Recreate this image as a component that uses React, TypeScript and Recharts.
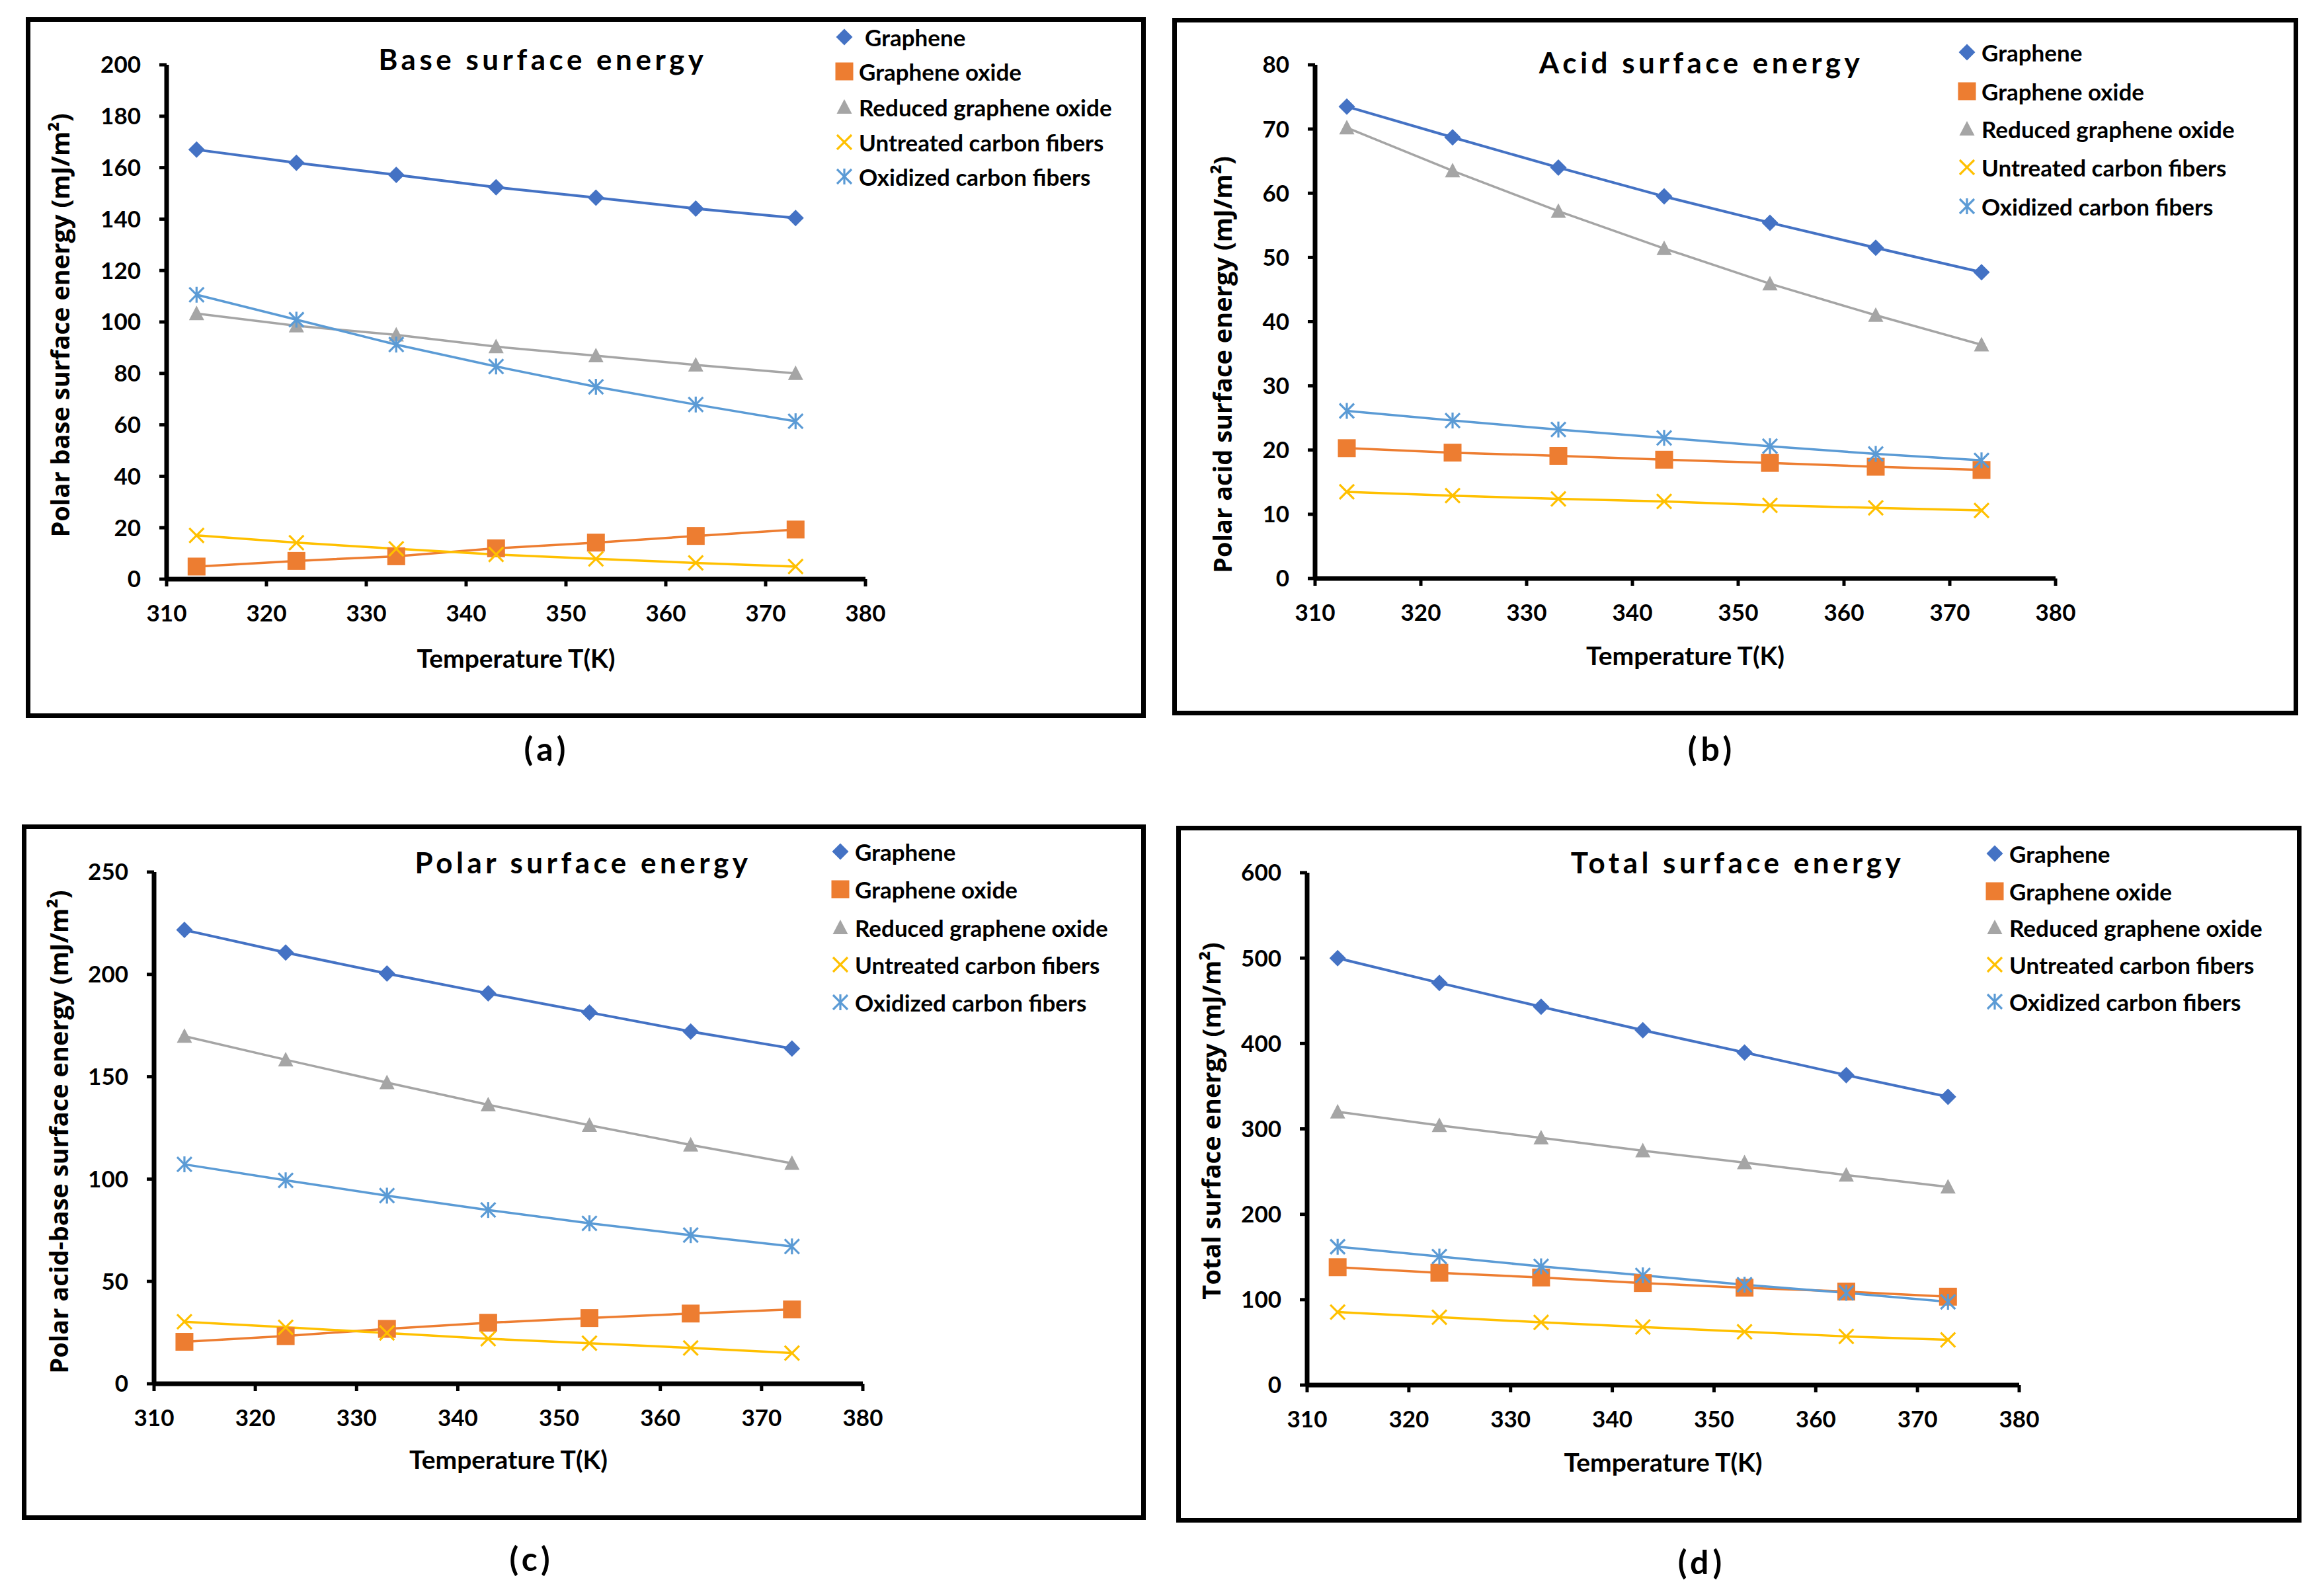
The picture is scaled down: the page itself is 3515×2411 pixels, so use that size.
import React from "react"
import { Line, LineChart, XAxis, YAxis } from "recharts"

const TEMPS = [313, 323, 333, 343, 353, 363, 373]
const X_TICKS = [310, 320, 330, 340, 350, 360, 370, 380]

const SERIES_NAMES = [
  "Graphene",
  "Graphene oxide",
  "Reduced graphene oxide",
  "Untreated carbon fibers",
  "Oxidized carbon fibers",
]

// (a) base surface energy
const BASE_GRAPHENE = [167, 161.9, 157.2, 152.4, 148.3, 144.1, 140.4]
const BASE_GO = [4.9, 7.1, 8.9, 12, 14.2, 16.8, 19.3]
const BASE_RGO = [103.3, 98.5, 95, 90.4, 86.9, 83.3, 80]
const BASE_UCF = [17, 14.2, 11.8, 9.6, 7.9, 6.3, 4.9]
const BASE_OCF = [110.6, 100.9, 91.2, 82.7, 74.8, 67.9, 61.4]

// (b) acid surface energy
const ACID_GRAPHENE = [73.5, 68.7, 64, 59.5, 55.4, 51.5, 47.7]
const ACID_GO = [20.3, 19.6, 19.1, 18.5, 18, 17.4, 16.9]
const ACID_RGO = [70.2, 63.5, 57.2, 51.4, 45.9, 41, 36.4]
const ACID_UCF = [13.5, 12.9, 12.4, 12, 11.4, 11, 10.6]
const ACID_OCF = [26.1, 24.6, 23.2, 21.9, 20.6, 19.4, 18.4]

// (c) polar surface energy
const POLAR_GRAPHENE = [221.7, 210.7, 200.4, 190.7, 181.4, 172.1, 163.8]
const POLAR_GO = [20.5, 23.3, 26.8, 29.8, 32.1, 34.3, 36.3]
const POLAR_RGO = [169.8, 158.3, 147.1, 136.3, 126.3, 116.7, 107.7]
const POLAR_UCF = [30.3, 27.6, 24.8, 22, 19.8, 17.5, 15]
const POLAR_OCF = [107.2, 99.4, 91.9, 84.9, 78.4, 72.6, 67.1]

// (d) total surface energy
const TOTAL_GRAPHENE = [500, 471, 443, 415.5, 389.5, 363, 337.5]
const TOTAL_GO = [138, 131.5, 126, 119.5, 114, 109.5, 103.5]
const TOTAL_RGO = [320, 304, 289.5, 274.5, 260.5, 246, 232]
const TOTAL_UCF = [85.5, 79.5, 73.5, 68, 62.5, 57, 53]
const TOTAL_OCF = [162, 150.5, 139, 128.5, 117.5, 108, 97.5]

const COLORS = ["#4472C4", "#ED7D31", "#A5A5A5", "#FFC000", "#5B9BD5"]
const KEYS = ["g", "go", "rgo", "ucf", "ocf"]
const SHAPES = ["diamond", "square", "triangle", "x", "star"]

const CAL = "Lato, 'Open Sans', sans-serif"
const VERD = "'Open Sans', 'DejaVu Sans', Verdana, sans-serif"

function Marker({ shape, cx, cy, color, scale = 1 }: any) {
  if (cx == null || cy == null) return null
  const s = scale
  if (shape === "diamond") {
    const r = 12.5 * s
    return <polygon points={`${cx},${cy - r} ${cx + r},${cy} ${cx},${cy + r} ${cx - r},${cy}`} fill={color} />
  }
  if (shape === "square") {
    const h = 13.5 * s
    return <rect x={cx - h} y={cy - h} width={h * 2} height={h * 2} fill={color} />
  }
  if (shape === "triangle") {
    const w = 11.5 * s
    return <polygon points={`${cx},${cy - 12 * s} ${cx + w},${cy + 10 * s} ${cx - w},${cy + 10 * s}`} fill={color} />
  }
  const r = 11 * s
  return (
    <g stroke={color} strokeWidth={3.2} fill="none">
      <line x1={cx - r} y1={cy - r} x2={cx + r} y2={cy + r} />
      <line x1={cx - r} y1={cy + r} x2={cx + r} y2={cy - r} />
      {shape === "star" && <line x1={cx} y1={cy - r - 1} x2={cx} y2={cy + r + 1} />}
    </g>
  )
}

type PanelDef = {
  box: { x: number; y: number; w: number; h: number }
  plot: { l: number; t: number; r: number; b: number }
  series: number[][]
  yMax: number
  yTicks: number[]
  yLabel: string
  yLabelDist: number
  yLabelDy: number
  xLabelDy: number
  title: string
  titleX: number
  titleY: number
  legendX: number
  legendRows: number[]
  tag: string
  tagX: number
  tagY: number
}

const PANELS: PanelDef[] = [
  {
    box: { x: 39, y: 26, w: 1694, h: 1060 },
    plot: { l: 252, t: 98, r: 1309, b: 876 },
    series: [BASE_GRAPHENE, BASE_GO, BASE_RGO, BASE_UCF, BASE_OCF],
    yMax: 200,
    yTicks: [0, 20, 40, 60, 80, 100, 120, 140, 160, 180, 200],
    yLabel: "Polar base surface energy (mJ/m²)",
    yLabelDist: 162,
    yLabelDy: 5,
    xLabelDy: 119,
    title: "Base surface energy",
    titleX: 821,
    titleY: 106,
    legendX: 1277,
    legendRows: [56, 108, 162, 215, 267],
    tag: "(a)",
    tagX: 827,
    tagY: 1132,
  },
  {
    box: { x: 1773, y: 27, w: 1703, h: 1055 },
    plot: { l: 1989, t: 98, r: 3109, b: 875 },
    series: [ACID_GRAPHENE, ACID_GO, ACID_RGO, ACID_UCF, ACID_OCF],
    yMax: 80,
    yTicks: [0, 10, 20, 30, 40, 50, 60, 70, 80],
    yLabel: "Polar acid surface energy (mJ/m²)",
    yLabelDist: 141,
    yLabelDy: 65,
    xLabelDy: 116,
    title: "Acid surface energy",
    titleX: 2573,
    titleY: 111,
    legendX: 2975,
    legendRows: [79, 138, 195, 253, 312],
    tag: "(b)",
    tagX: 2589,
    tagY: 1132,
  },
  {
    box: { x: 33, y: 1247, w: 1700, h: 1052 },
    plot: { l: 233, t: 1319, r: 1305, b: 2093 },
    series: [POLAR_GRAPHENE, POLAR_GO, POLAR_RGO, POLAR_UCF, POLAR_OCF],
    yMax: 250,
    yTicks: [0, 50, 100, 150, 200, 250],
    yLabel: "Polar acid-base surface energy (mJ/m²)",
    yLabelDist: 145,
    yLabelDy: 6,
    xLabelDy: 114,
    title: "Polar surface energy",
    titleX: 882,
    titleY: 1321,
    legendX: 1271,
    legendRows: [1288, 1345, 1403, 1459, 1516],
    tag: "(c)",
    tagX: 804,
    tagY: 2357,
  },
  {
    box: { x: 1779, y: 1249, w: 1702, h: 1054 },
    plot: { l: 1977, t: 1320, r: 3054, b: 2095 },
    series: [TOTAL_GRAPHENE, TOTAL_GO, TOTAL_RGO, TOTAL_UCF, TOTAL_OCF],
    yMax: 600,
    yTicks: [0, 100, 200, 300, 400, 500, 600],
    yLabel: "Total surface energy (mJ/m²)",
    yLabelDist: 146,
    yLabelDy: -12,
    xLabelDy: 116,
    title: "Total surface energy",
    titleX: 2628,
    titleY: 1321,
    legendX: 3017,
    legendRows: [1291, 1348, 1403, 1459, 1515],
    tag: "(d)",
    tagX: 2574,
    tagY: 2362,
  },
]

const Y_AXIS_W = 170
const X_AXIS_H = 60

function Panel({ p }: { p: PanelDef }) {
  const data = TEMPS.map((t, i) => {
    const row: any = { t }
    KEYS.forEach((k, s) => (row[k] = p.series[s][i]))
    return row
  })
  const margin = {
    top: p.plot.t - p.box.y,
    left: p.plot.l - p.box.x - Y_AXIS_W,
    right: p.box.x + p.box.w - p.plot.r,
    bottom: p.box.y + p.box.h - p.plot.b - X_AXIS_H,
  }
  const tickStyle = { fill: "#000", fontSize: 35, fontFamily: CAL, fontWeight: 700 }

  const yLabel = (props: any) => {
    const vb = props.viewBox
    const cx = vb.x + vb.width - p.yLabelDist
    const cy = vb.y + vb.height / 2 + p.yLabelDy
    return (
      <text
        x={cx}
        y={cy}
        transform={`rotate(-90 ${cx} ${cy})`}
        textAnchor="middle"
        dominantBaseline="central"
        fontFamily={VERD}
        fontWeight={700}
        fontSize={38}
        fill="#000"
      >
        {p.yLabel}
      </text>
    )
  }
  const xLabel = (props: any) => {
    const vb = props.viewBox
    return (
      <text
        x={vb.x + vb.width / 2}
        y={vb.y + p.xLabelDy}
        textAnchor="middle"
        dominantBaseline="central"
        fontFamily={CAL}
        fontWeight={700}
        fontSize={39}
        fill="#000"
      >
        Temperature T(K)
      </text>
    )
  }

  return (
    <>
      <div
        style={{
          position: "absolute",
          left: p.box.x,
          top: p.box.y,
          width: p.box.w,
          height: p.box.h,
          border: "7px solid #000",
          boxSizing: "border-box",
        }}
      />
      <div style={{ position: "absolute", left: p.box.x, top: p.box.y }}>
        <LineChart width={p.box.w} height={p.box.h} data={data} margin={margin}>
          <XAxis
            dataKey="t"
            type="number"
            domain={[310, 380]}
            ticks={X_TICKS}
            interval={0}
            height={X_AXIS_H}
            axisLine={{ stroke: "#000", strokeWidth: 7 }}
            tickLine={{ stroke: "#000", strokeWidth: 5 }}
            tickSize={11}
            tickMargin={28}
            tick={tickStyle}
            label={xLabel}
          />
          <YAxis
            type="number"
            domain={[0, p.yMax]}
            ticks={p.yTicks}
            interval={0}
            width={Y_AXIS_W}
            axisLine={{ stroke: "#000", strokeWidth: 7 }}
            tickLine={{ stroke: "#000", strokeWidth: 5 }}
            tickSize={11}
            tickMargin={28}
            tick={tickStyle}
            label={yLabel}
          />
          {KEYS.map((k, s) => (
            <Line
              key={k}
              dataKey={k}
              type="linear"
              stroke={COLORS[s]}
              strokeWidth={s === 0 ? 4 : 3.5}
              isAnimationActive={false}
              dot={(d: any) => (
                <Marker key={`${k}-${d.index}`} shape={SHAPES[s]} cx={d.cx} cy={d.cy} color={COLORS[s]} />
              )}
              activeDot={false}
            />
          ))}
        </LineChart>
      </div>
    </>
  )
}

function Overlay() {
  return (
    <svg
      width={3515}
      height={2411}
      style={{ position: "absolute", left: 0, top: 0, pointerEvents: "none" }}
    >
      {PANELS.map((p) => (
        <g key={p.tag}>
          <text
            x={p.titleX}
            y={p.titleY}
            textAnchor="middle"
            fontFamily={CAL}
            fontWeight={700}
            fontSize={44}
            letterSpacing={5.5}
            fill="#000"
          >
            {p.title}
          </text>
          {SERIES_NAMES.map((name, s) => (
            <g key={name}>
              <Marker shape={SHAPES[s]} cx={p.legendX} cy={p.legendRows[s]} color={COLORS[s]} />
              <text
                x={p.legendX + (s === 0 && p.tag === "(a)" ? 31 : 22)}
                y={p.legendRows[s]}
                dominantBaseline="central"
                fontFamily={CAL}
                fontWeight={700}
                fontSize={35}
                fill="#000"
              >
                {name}
              </text>
            </g>
          ))}
          <text
            x={p.tagX}
            y={p.tagY}
            textAnchor="middle"
            dominantBaseline="central"
            fontFamily={CAL}
            fontWeight={700}
            fontSize={50}
            letterSpacing={6}
            fill="#000"
          >
            {p.tag}
          </text>
        </g>
      ))}
    </svg>
  )
}

export default function App() {
  return (
    <div
      style={{
        position: "absolute",
        left: 0,
        top: 0,
        width: 3515,
        height: 2411,
        background: "#fff",
        overflow: "hidden",
      }}
    >
      {PANELS.map((p) => (
        <Panel key={p.tag} p={p} />
      ))}
      <Overlay />
    </div>
  )
}
